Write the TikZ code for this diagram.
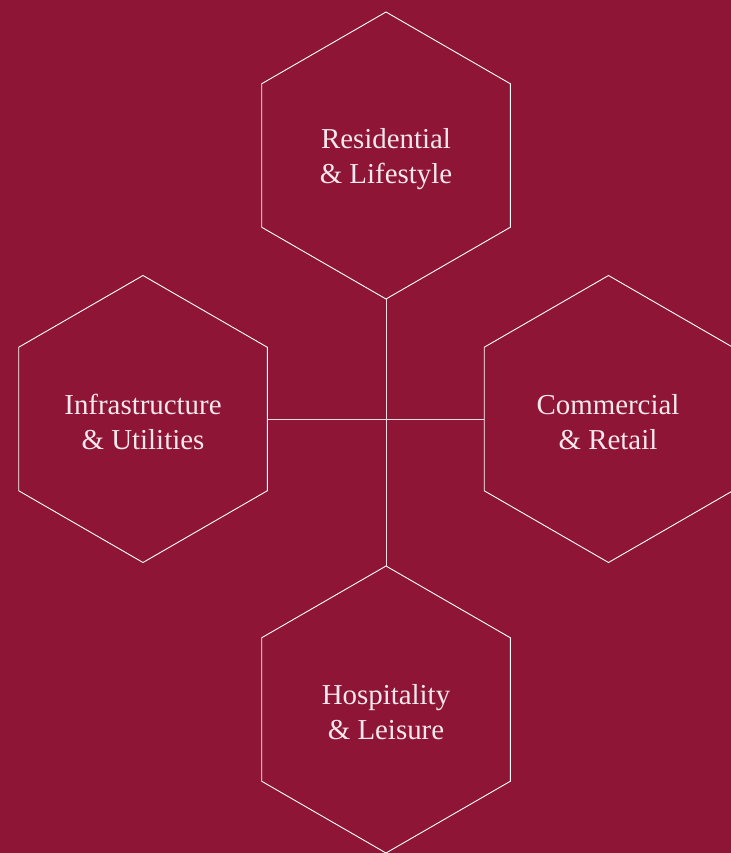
\documentclass[tikz,border=0pt]{standalone}
\usepackage{fontspec}
\setmainfont{Liberation Serif}
\usetikzlibrary{calc}
\definecolor{bgred}{HTML}{8E1536}
\definecolor{txt}{HTML}{F6E8EC}
\begin{document}
\begin{tikzpicture}[x=1bp,y=-1bp,
  hexline/.style={draw=white,line width=0.9bp},
  conn/.style={draw=white!85!bgred,line width=0.9bp},
  lbl/.style={text=txt,font=\fontsize{29}{35}\selectfont,align=center,inner sep=0pt}]
\fill[bgred] (0,0) rectangle (731,853);
\useasboundingbox (0,0) rectangle (731,853);
\def\hexR{143.5}
\foreach \n/\cx/\cy in {top/386/155.5, left/143/419, right/608.5/419, bot/386/709.5}{
  \coordinate (\n) at (\cx,\cy);
  \draw[hexline] ($(\cx,\cy)+(0,-\hexR)$) -- ($(\cx,\cy)+(124.3,-71.75)$) -- ($(\cx,\cy)+(124.3,71.75)$) -- ($(\cx,\cy)+(0,\hexR)$) -- ($(\cx,\cy)+(-124.3,71.75)$) -- ($(\cx,\cy)+(-124.3,-71.75)$) -- cycle;
}
\coordinate (topS) at (386,299);
\coordinate (botN) at (386,566);
\coordinate (leftE) at (267.3,419);
\coordinate (rightW) at (484.2,419);
\draw[conn] (topS) -- (botN);
\draw[conn] (leftE) -- (rightW);
\node[lbl] (t1) at (386,159) {Residential\\\& Lifestyle};
\node[lbl] (t2) at (143,422) {Infrastructure\\\& Utilities};
\node[lbl] (t3) at (608,422) {Commercial\\\& Retail};
\node[lbl] (t4) at (386,712) {Hospitality\\\& Leisure};
\end{tikzpicture}
\end{document}
